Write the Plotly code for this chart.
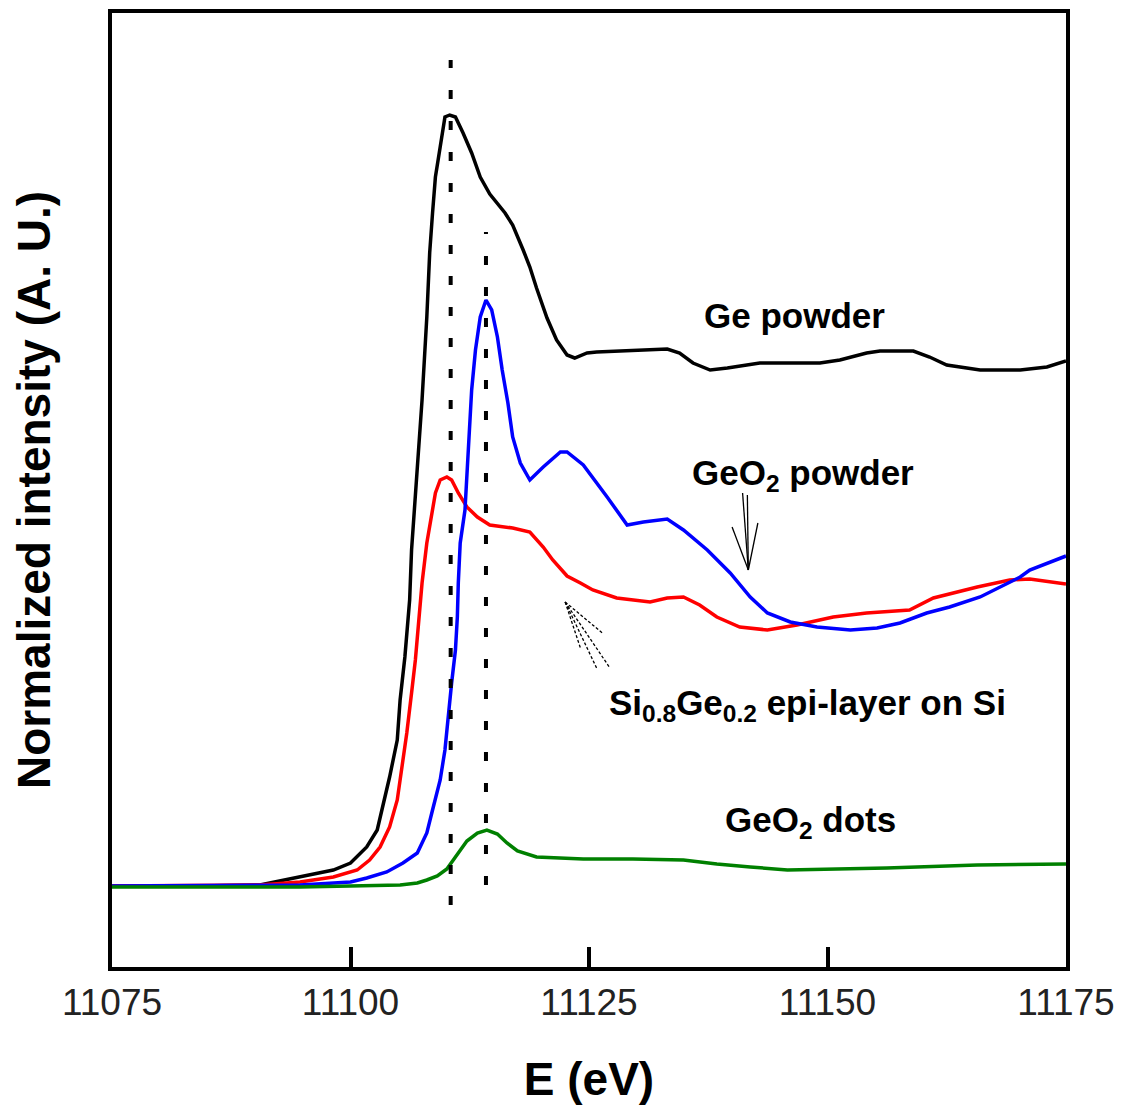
import plotly.graph_objects as go

# Ge K-edge XANES spectra (energy in eV, normalized intensity in arbitrary units)
ge_powder_e = [11075, 11084.2, 11090.5, 11094.7, 11098.2, 11100.0, 11101.7, 11102.8, 11103.4,
               11104.1, 11104.9, 11105.2, 11105.7, 11106.2, 11106.4, 11107.0, 11107.5, 11108.0,
               11108.3, 11108.6, 11108.9, 11109.4, 11109.9, 11110.4, 11111.0, 11111.8, 11112.7,
               11113.6, 11114.6, 11116.2, 11117.0, 11118.1, 11118.8, 11119.5, 11120.6, 11121.6,
               11122.7, 11123.5, 11124.8, 11125.8, 11130.0, 11133.2, 11134.5, 11135.9, 11137.7,
               11139.5, 11142.9, 11149.2, 11151.3, 11154.1, 11155.5, 11159.0, 11160.7, 11162.5,
               11166.0, 11170.2, 11173.0, 11175.0]
ge_powder_i = [0.000, 0.000, 0.002, 0.018, 0.032, 0.046, 0.078, 0.112, 0.158,
               0.218, 0.292, 0.372, 0.458, 0.572, 0.672, 0.838, 0.972, 1.138,
               1.266, 1.346, 1.418, 1.478, 1.538, 1.542, 1.538, 1.506, 1.466,
               1.418, 1.384, 1.346, 1.322, 1.272, 1.238, 1.196, 1.136, 1.092,
               1.062, 1.056, 1.066, 1.068, 1.072, 1.074, 1.066, 1.046, 1.032,
               1.036, 1.046, 1.046, 1.052, 1.066, 1.070, 1.070, 1.058, 1.042,
               1.032, 1.032, 1.038, 1.050]

geo2_powder_e = [11075, 11094.7, 11100.0, 11101.7, 11103.8, 11105.5, 11107.0, 11108.0, 11108.6,
                 11109.4, 11109.9, 11110.2, 11110.6, 11111.0, 11111.2, 11111.3, 11111.5, 11112.0,
                 11112.3, 11112.7, 11113.1, 11113.6, 11114.2, 11114.8, 11115.4, 11115.9, 11116.5,
                 11117.0, 11117.8, 11118.8, 11120.2, 11122.0, 11122.7, 11124.4, 11126.9, 11129.0,
                 11130.7, 11133.2, 11134.9, 11137.4, 11139.8, 11141.9, 11143.7, 11146.1, 11148.9,
                 11152.4, 11155.2, 11157.6, 11160.4, 11162.8, 11166.0, 11168.1, 11170.2, 11171.2,
                 11175.0]
geo2_powder_i = [0.000, 0.002, 0.008, 0.016, 0.028, 0.046, 0.066, 0.106, 0.152,
                 0.212, 0.272, 0.338, 0.406, 0.472, 0.538, 0.606, 0.686, 0.752,
                 0.858, 0.992, 1.072, 1.138, 1.172, 1.152, 1.098, 1.032, 0.966,
                 0.898, 0.846, 0.812, 0.838, 0.868, 0.868, 0.842, 0.778, 0.722,
                 0.728, 0.734, 0.712, 0.672, 0.626, 0.578, 0.546, 0.528, 0.518,
                 0.512, 0.516, 0.526, 0.546, 0.558, 0.578, 0.598, 0.618, 0.632,
                 0.660]

sige_e = [11075, 11090.5, 11094.7, 11098.2, 11100.7, 11102.0, 11103.1, 11104.1, 11104.9,
          11105.4, 11105.9, 11106.4, 11106.8, 11107.1, 11107.5, 11108.0, 11108.5, 11108.9,
          11109.4, 11110.1, 11110.6, 11111.3, 11112.2, 11113.3, 11114.6, 11117.0, 11118.8,
          11120.2, 11121.2, 11122.7, 11124.1, 11125.4, 11127.9, 11131.4, 11133.2, 11134.9,
          11136.6, 11138.4, 11140.8, 11143.7, 11146.8, 11150.6, 11154.1, 11158.6, 11161.1,
          11165.7, 11169.1, 11171.2, 11175.0]
sige_i = [0.000, 0.002, 0.008, 0.018, 0.032, 0.052, 0.078, 0.118, 0.172,
          0.238, 0.306, 0.386, 0.452, 0.518, 0.606, 0.686, 0.738, 0.786,
          0.812, 0.818, 0.812, 0.786, 0.758, 0.738, 0.722, 0.716, 0.708,
          0.678, 0.652, 0.620, 0.606, 0.592, 0.576, 0.568, 0.576, 0.578,
          0.562, 0.538, 0.518, 0.512, 0.522, 0.538, 0.546, 0.552, 0.576,
          0.598, 0.612, 0.614, 0.604]

geo2_dots_e = [11075, 11094.7, 11105.2, 11107.0, 11108.0, 11109.1, 11110.1, 11111.2, 11112.2,
               11113.3, 11114.3, 11115.4, 11116.4, 11117.5, 11119.5, 11124.4, 11129.6, 11134.9,
               11138.4, 11141.9, 11145.8, 11156.2, 11165.7, 11175.0]
geo2_dots_i = [-0.002, -0.002, 0.002, 0.006, 0.012, 0.020, 0.034, 0.064, 0.090,
               0.106, 0.112, 0.104, 0.086, 0.070, 0.058, 0.054, 0.054, 0.052,
               0.044, 0.038, 0.032, 0.036, 0.042, 0.044]

# white-line peak positions marked by dotted guides
ge_peak_e = 11110.5
geo2_peak_e = 11114.2

x_ticks = [11075, 11100, 11125, 11150, 11175]

series = [
    ("Ge powder", ge_powder_e, ge_powder_i, "#000000"),
    ("Si0.8Ge0.2 epi-layer on Si", sige_e, sige_i, "#ff0000"),
    ("GeO2 powder", geo2_powder_e, geo2_powder_i, "#0000ff"),
    ("GeO2 dots", geo2_dots_e, geo2_dots_i, "#008000"),
]

fig = go.Figure()
for name, e, inten, color in series:
    fig.add_trace(go.Scatter(x=e, y=inten, mode="lines", name=name,
                             line=dict(color=color, width=3.5), showlegend=False))

# dotted guides at the two peak energies
fig.add_shape(type="line", x0=ge_peak_e, x1=ge_peak_e, y0=-0.038, y1=1.652,
              line=dict(color="black", width=4, dash="9px,22px"))
fig.add_shape(type="line", x0=geo2_peak_e, x1=geo2_peak_e, y0=0.002, y1=1.308,
              line=dict(color="black", width=4, dash="9px,22px"))

# hand-drawn style arrows
arrow_line = dict(color="black", width=1.3)
geo2_tip = (11141.7, 0.632)
for (ex, iy) in [(11141.1, 0.786), (11141.6, 0.782), (11140.0, 0.718), (11142.7, 0.726)]:
    fig.add_shape(type="line", x0=geo2_tip[0], y0=geo2_tip[1], x1=ex, y1=iy, line=arrow_line)
sige_tip = (11122.5, 0.568)
for (ex, iy) in [(11127.2, 0.436), (11125.8, 0.436), (11124.1, 0.476), (11126.4, 0.506)]:
    fig.add_shape(type="line", x0=sige_tip[0], y0=sige_tip[1], x1=ex, y1=iy,
                  line=dict(color="black", width=1.3, dash="3px,2px"))

label_font = dict(family="Liberation Sans, Arial, sans-serif", size=35, color="black")
labels = [
    ("<b>Ge powder</b>", 11146.5, 1.142),
    ("<b>GeO<sub>2</sub> powder</b>", 11147.4, 0.822),
    ("<b>Si<sub>0.8</sub>Ge<sub>0.2</sub> epi-layer on Si</b>", 11147.9, 0.362),
    ("<b>GeO<sub>2</sub> dots</b>", 11148.2, 0.128),
]
for text, ex, iy in labels:
    fig.add_annotation(x=ex, y=iy, text=text, showarrow=False, font=label_font,
                       xanchor="center", yanchor="middle")

fig.update_layout(
    width=1122, height=1105,
    margin=dict(l=112, r=56, t=13, b=138),
    plot_bgcolor="white", paper_bgcolor="white",
    font=dict(family="Liberation Sans, Arial, sans-serif", color="black"),
)
fig.update_xaxes(
    range=[11075, 11175], tickvals=x_ticks, ticktext=[str(t) for t in x_ticks],
    ticks="inside", ticklen=20, tickwidth=4, tickcolor="black",
    showline=True, linewidth=4, linecolor="black", mirror=True,
    showgrid=False, zeroline=False, automargin=False,
    tickfont=dict(size=37, color="#222222"),
    title=dict(text="<b>E (eV)</b>", font=dict(size=46), standoff=42),
)
fig.update_yaxes(
    range=[-0.162, 1.746], showticklabels=False, ticks="",
    showline=True, linewidth=4, linecolor="black", mirror=True,
    showgrid=False, zeroline=False, automargin=False,
    title=dict(text="<b>Normalized intensity (A. U.)</b>", font=dict(size=46), standoff=44),
)

fig.write_html("out.html")
